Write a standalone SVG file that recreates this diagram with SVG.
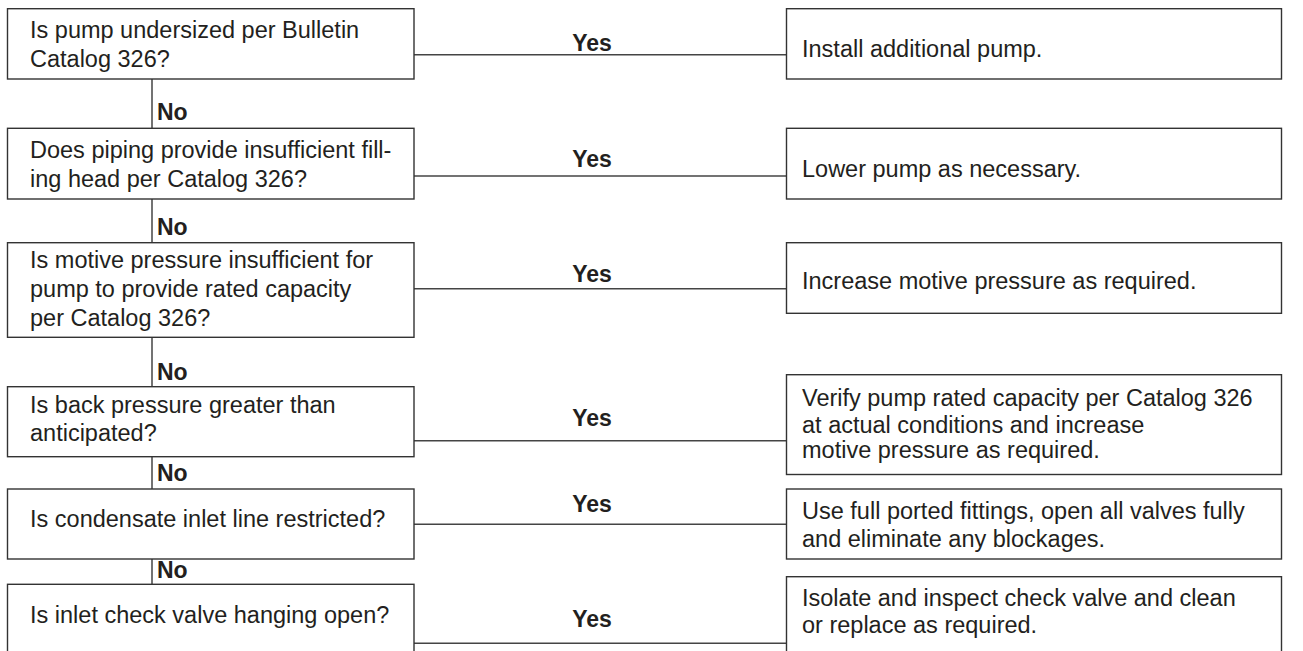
<svg xmlns="http://www.w3.org/2000/svg" width="1303" height="651" viewBox="0 0 1303 651">
<style>
.box{fill:#fff;stroke:#333;stroke-width:1.4}
.t{font-family:"Liberation Sans",Arial,Helvetica,sans-serif;font-size:23.5px;fill:#231f20}
.lb{font-family:"Liberation Sans",Arial,Helvetica,sans-serif;font-size:23px;font-weight:bold;fill:#231f20}
.c{stroke:#444;stroke-width:1.5;fill:none}
</style>
<rect width="1303" height="651" fill="#fff"/>
<g id="connectors">
<line class="c" x1="152" y1="79" x2="152" y2="128.3"/>
<line class="c" x1="152" y1="199" x2="152" y2="242.7"/>
<line class="c" x1="152" y1="337.3" x2="152" y2="386.7"/>
<line class="c" x1="152" y1="456.7" x2="152" y2="489"/>
<line class="c" x1="152" y1="559" x2="152" y2="584.3"/>
<line class="c" x1="414" y1="54.7" x2="786.5" y2="54.7"/>
<line class="c" x1="414" y1="176" x2="786.5" y2="176"/>
<line class="c" x1="414" y1="288.7" x2="786.5" y2="288.7"/>
<line class="c" x1="414" y1="440.7" x2="786.5" y2="440.7"/>
<line class="c" x1="414" y1="524.3" x2="786.5" y2="524.3"/>
<line class="c" x1="414" y1="643.3" x2="786.5" y2="643.3"/>
<text class="lb" x="157" y="120">No</text>
<text class="lb" x="157" y="235">No</text>
<text class="lb" x="157" y="380">No</text>
<text class="lb" x="157" y="480.7">No</text>
<text class="lb" x="157" y="578.3">No</text>
<text class="lb" x="592" y="51" text-anchor="middle">Yes</text>
<text class="lb" x="592" y="166.7" text-anchor="middle">Yes</text>
<text class="lb" x="592" y="281.7" text-anchor="middle">Yes</text>
<text class="lb" x="592" y="425.7" text-anchor="middle">Yes</text>
<text class="lb" x="592" y="511.7" text-anchor="middle">Yes</text>
<text class="lb" x="592" y="626.7" text-anchor="middle">Yes</text>
</g>
<g id="q1"><rect class="box" x="7.5" y="8.7" width="406.5" height="70.3"/>
<text class="t" x="30" y="37.5">Is pump undersized per Bulletin</text>
<text class="t" x="30" y="66.5">Catalog 326?</text></g>
<g id="q2"><rect class="box" x="7.5" y="128.3" width="406.5" height="70.7"/>
<text class="t" x="30" y="158.3">Does piping provide insufficient fill-</text>
<text class="t" x="30" y="187.3">ing head per Catalog 326?</text></g>
<g id="q3"><rect class="box" x="7.5" y="242.7" width="406.5" height="94.6"/>
<text class="t" x="30" y="268.3">Is motive pressure insufficient for</text>
<text class="t" x="30" y="297.3">pump to provide rated capacity</text>
<text class="t" x="30" y="326">per Catalog 326?</text></g>
<g id="q4"><rect class="box" x="7.5" y="386.7" width="406.5" height="70"/>
<text class="t" x="30" y="412.7">Is back pressure greater than</text>
<text class="t" x="30" y="441.3">anticipated?</text></g>
<g id="q5"><rect class="box" x="7.5" y="489" width="406.5" height="70"/>
<text class="t" x="30" y="527.3">Is condensate inlet line restricted?</text></g>
<g id="q6"><rect class="box" x="7.5" y="584.3" width="406.5" height="80"/>
<text class="t" x="30" y="623.3">Is inlet check valve hanging open?</text></g>
<g id="a1"><rect class="box" x="786.5" y="8.7" width="495" height="70.3"/>
<text class="t" x="802" y="56.7">Install additional pump.</text></g>
<g id="a2"><rect class="box" x="786.5" y="128.3" width="495" height="70.7"/>
<text class="t" x="802" y="176.7">Lower pump as necessary.</text></g>
<g id="a3"><rect class="box" x="786.5" y="242.7" width="495" height="70.6"/>
<text class="t" x="802" y="289">Increase motive pressure as required.</text></g>
<g id="a4"><rect class="box" x="786.5" y="374.7" width="495" height="99.8"/>
<text class="t" x="802" y="405.5">Verify pump rated capacity per Catalog 326</text>
<text class="t" x="802" y="433">at actual conditions and increase</text>
<text class="t" x="802" y="458">motive pressure as required.</text></g>
<g id="a5"><rect class="box" x="786.5" y="489" width="495" height="70"/>
<text class="t" x="802" y="519.3">Use full ported fittings, open all valves fully</text>
<text class="t" x="802" y="547.3">and eliminate any blockages.</text></g>
<g id="a6"><rect class="box" x="786.5" y="576.7" width="495" height="90"/>
<text class="t" x="802" y="605.7">Isolate and inspect check valve and clean</text>
<text class="t" x="802" y="633.3">or replace as required.</text></g>
</svg>
